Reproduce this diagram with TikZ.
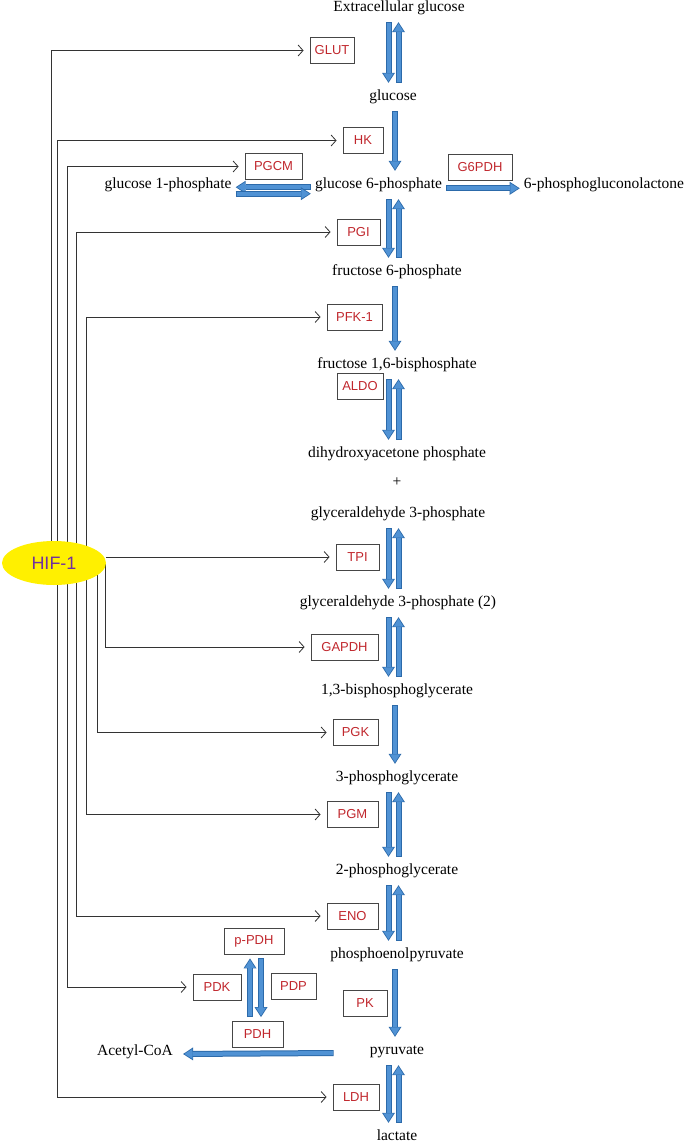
\documentclass[tikz,border=0pt]{standalone}
\usepackage{fontspec}
\setmainfont{Liberation Serif}
\setsansfont{Liberation Sans}
\usetikzlibrary{arrows.meta,shapes.geometric,backgrounds}
\definecolor{fluxblue}{RGB}{80,146,212}
\definecolor{fluxedge}{RGB}{44,106,170}
\definecolor{enzred}{RGB}{192,39,45}
\definecolor{boxgray}{RGB}{70,70,70}
\definecolor{hifyellow}{RGB}{255,240,0}
\definecolor{hifpurple}{RGB}{112,48,160}

\begin{document}
\begin{tikzpicture}[x=1pt,y=-1pt,>={Straight Barb[length=5pt,width=11pt]},
    met/.style={font=\fontsize{15.5}{18}\selectfont, inner sep=0pt, text height=10.5pt, text depth=3.5pt},
    enz/.style={draw=boxgray, line width=0.8pt, text=enzred, font=\sffamily\fontsize{13}{15}\selectfont, minimum height=26pt, minimum width=#1, inner sep=0pt},
    enz/.default=44pt,
    hif/.style={ellipse, fill=hifyellow, text=hifpurple, font=\sffamily\fontsize{18}{20}\selectfont, minimum width=104pt, minimum height=44pt, inner sep=0pt},
    reg/.style={draw=black!80, line width=0.8pt, ->, shorten >=6pt},
    flux/.style={draw=fluxedge, line width=6pt, -{Triangle[length=10pt,width=13pt,line width=0pt]}, shorten <=#1, shorten >=#1,
        postaction={draw=fluxblue, line width=4pt, -{Triangle[length=8pt,width=10pt,line width=0pt]}, shorten <=#1+0.9pt, shorten >=#1+1.4pt}},
    flux/.default=7pt]
    \useasboundingbox (0,0) rectangle (686,1146);

    % metabolites
    \node[met] (ext) at (399,8) {Extracellular glucose};
    \node[met] (glc) at (393,97) {glucose};
    \node[met] (g6p) at (378.5,185) {glucose 6-phosphate};
    \node[met] (g1p) at (168,185) {glucose 1-phosphate};
    \node[met] (pgl) at (604,185) {6-phosphogluconolactone};
    \node[met] (f6p) at (397,272) {fructose 6-phosphate};
    \node[met] (fbp) at (397,365) {fructose 1,6-bisphosphate};
    \node[met] (dhap) at (397,454) {dihydroxyacetone phosphate};
    \node[met] (plus) at (397,483) {+};
    \node[met] (gap) at (398,514) {glyceraldehyde 3-phosphate};
    \node[met] (gap2) at (398,603) {glyceraldehyde 3-phosphate (2)};
    \node[met] (bpg) at (397,691) {1,3-bisphosphoglycerate};
    \node[met] (pg3) at (397,778) {3-phosphoglycerate};
    \node[met] (pg2) at (397,871) {2-phosphoglycerate};
    \node[met] (pep) at (397,955) {phosphoenolpyruvate};
    \node[met] (pyr) at (397,1051) {pyruvate};
    \node[met] (lac) at (397,1137) {lactate};
    \node[met] (acoa) at (135,1052) {Acetyl-CoA};

    % enzymes
    \node[enz] (glut) at (332,50.5) {GLUT};
    \node[enz=40pt] (hk) at (363,140.5) {HK};
    \node[enz=57pt] (pgcm) at (273.5,166.5) {PGCM};
    \node[enz=64pt] (g6pdh) at (480,167) {G6PDH};
    \node[enz=43pt] (pgi) at (358.5,232) {PGI};
    \node[enz=55pt] (pfk) at (354.5,317) {PFK-1};
    \node[enz=46pt] (aldo) at (360,386) {ALDO};
    \node[enz=43pt] (tpi) at (357.5,557) {TPI};
    \node[enz=67pt] (gapdh) at (344.5,647) {GAPDH};
    \node[enz=45pt] (pgk) at (355.5,732.5) {PGK};
    \node[enz=51pt] (pgm) at (352.5,814.5) {PGM};
    \node[enz=51pt] (eno) at (352.5,916) {ENO};
    \node[enz=60pt] (ppdh) at (254,941) {p-PDH};
    \node[enz=48pt] (pdk) at (217,987) {PDK};
    \node[enz=45pt] (pdp) at (293.5,986) {PDP};
    \node[enz=51pt] (pdh) at (257.5,1034.5) {PDH};
    \node[enz=44pt] (pk) at (365,1003) {PK};
    \node[enz=46pt] (ldh) at (356,1097) {LDH};

    \node[hif] (hif) at (54,563) {HIF-1};

    % lanes
    \coordinate (dn) at (388.5,0);
    \coordinate (up) at (398.5,0);
    \coordinate (mid) at (395,0);
    \coordinate (l1) at (51,0);
    \coordinate (l2) at (57.5,0);
    \coordinate (l3) at (67,0);
    \coordinate (l4) at (76,0);
    \coordinate (l5) at (86,0);
    \coordinate (l6) at (97,0);
    \coordinate (l7) at (105,0);

    % glycolysis
    \draw[flux] (ext.south -| dn) -- (glc.north -| dn);
    \draw[flux] (glc.north -| up) -- (ext.south -| up);
    \draw[flux] (glc.south -| mid) -- (g6p.north -| mid);
    \draw[flux] (g6p.south -| dn) -- (f6p.north -| dn);
    \draw[flux] (f6p.north -| up) -- (g6p.south -| up);
    \draw[flux] (f6p.south -| mid) -- (fbp.north -| mid);
    \draw[flux] (fbp.south -| dn) -- (dhap.north -| dn);
    \draw[flux] (dhap.north -| up) -- (fbp.south -| up);
    \draw[flux] (gap.south -| dn) -- (gap2.north -| dn);
    \draw[flux] (gap2.north -| up) -- (gap.south -| up);
    \draw[flux] (gap2.south -| dn) -- (bpg.north -| dn);
    \draw[flux] (bpg.north -| up) -- (gap2.south -| up);
    \draw[flux] (bpg.south -| mid) -- (pg3.north -| mid);
    \draw[flux] (pg3.south -| dn) -- (pg2.north -| dn);
    \draw[flux] (pg2.north -| up) -- (pg3.south -| up);
    \draw[flux] (pg2.south -| dn) -- (pep.north -| dn);
    \draw[flux] (pep.north -| up) -- (pg2.south -| up);
    \draw[flux] (pep.south -| mid) -- (pyr.north -| mid);
    \draw[flux] (pyr.south -| dn) -- (lac.north -| dn);
    \draw[flux] (lac.north -| up) -- (pyr.south -| up);

    % side branches
    \draw[flux=4pt] ([yshift=-2.2pt]g6p.west) -- ([yshift=-2.2pt]g1p.east);
    \draw[flux=4pt] ([yshift=-8.7pt]g1p.east) -- ([yshift=-8.7pt]g6p.west);
    \draw[flux=4pt] ([yshift=-3.3pt]g6p.east) -- ([yshift=-3.3pt]pgl.west);
    \draw[flux=0pt] ([xshift=-36pt,yshift=-2pt]pyr.west) -- ([xshift=10pt,yshift=-2pt]acoa.east);
    \draw[flux=4pt] (pdh.north -| 250,0) -- (ppdh.south -| 250,0);
    \draw[flux=4pt] (ppdh.south -| 261,0) -- (pdh.north -| 261,0);

    % HIF-1 targets
    \begin{scope}[on background layer]
        \draw[reg] (hif -| l1) |- (glut.west);
        \draw[reg] (hif -| l2) |- (hk.west);
        \draw[reg] (hif -| l3) |- (pgcm.west);
        \draw[reg] (hif -| l4) |- (pgi.west);
        \draw[reg] (hif -| l5) |- (pfk.west);
        \draw[reg] (hif.east |- tpi.west) -- (tpi.west);
        \draw[reg] (hif -| l7) |- (gapdh.west);
        \draw[reg] (hif -| l6) |- (pgk.west);
        \draw[reg] (hif -| l5) |- (pgm.west);
        \draw[reg] (hif -| l4) |- (eno.west);
        \draw[reg] (hif -| l3) |- (pdk.west);
        \draw[reg] (hif -| l2) |- (ldh.west);
    \end{scope}
\end{tikzpicture}
\end{document}
